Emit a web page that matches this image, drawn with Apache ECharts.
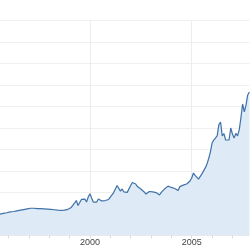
<!DOCTYPE html>
<html><head><meta charset="utf-8">
<script src="https://cdn.jsdelivr.net/npm/echarts@6/dist/echarts.min.js"></script>
<style>html,body{margin:0;padding:0;background:#fff}#c{width:250px;height:250px}</style>
</head><body><div id="c"></div>
<script>
const months = [
 '1995-08','1995-09','1995-10','1995-11','1995-12',
 '1996-01','1996-02','1996-03','1996-04','1996-05','1996-06','1996-07','1996-08','1996-09','1996-10','1996-11','1996-12',
 '1997-01','1997-02','1997-03','1997-04','1997-05','1997-06','1997-07','1997-08','1997-09','1997-10','1997-11','1997-12',
 '1998-01','1998-02','1998-03','1998-04','1998-05','1998-06','1998-07','1998-08','1998-09','1998-10','1998-11','1998-12',
 '1999-01','1999-02','1999-03','1999-04','1999-05','1999-06','1999-07','1999-08','1999-09','1999-10','1999-11','1999-12',
 '2000-01','2000-02','2000-03','2000-04','2000-05','2000-06','2000-07','2000-08','2000-09','2000-10','2000-11','2000-12',
 '2001-01','2001-02','2001-03','2001-04','2001-05','2001-06','2001-07','2001-08','2001-09','2001-10','2001-11','2001-12',
 '2002-01','2002-02','2002-03','2002-04','2002-05','2002-06','2002-07','2002-08','2002-09','2002-10','2002-11','2002-12',
 '2003-01','2003-02','2003-03','2003-04','2003-05','2003-06','2003-07','2003-08','2003-09','2003-10','2003-11','2003-12',
 '2004-01','2004-02','2004-03','2004-04','2004-05','2004-06','2004-07','2004-08','2004-09','2004-10','2004-11','2004-12',
 '2005-01','2005-02','2005-03','2005-04','2005-05','2005-06','2005-07','2005-08','2005-09','2005-10','2005-11','2005-12',
 '2006-01','2006-02','2006-03','2006-04','2006-05','2006-06','2006-07','2006-08','2006-09','2006-10','2006-11','2006-12',
 '2007-01','2007-02','2007-03','2007-04','2007-05','2007-06','2007-07','2007-08','2007-09','2007-10','2007-11'
];
const values = [
 9.9,10.1,10.2,10.4,10.5,
 10.7,10.9,11.0,11.1,11.3,11.4,11.6,11.7,11.8,12.0,12.1,12.3,
 12.4,12.6,12.5,12.6,12.5,12.4,12.5,12.4,12.4,12.3,12.3,12.2,
 12.1,12.1,12.0,11.9,11.8,11.7,11.6,11.6,11.6,11.7,11.9,12.1,
 12.4,13.0,13.9,15.1,16.2,13.9,15.3,16.7,17.6,16.9,15.5,17.8,
 19.4,17.4,15.5,14.9,15.5,16.9,16.2,16.0,16.4,16.2,15.5,16.7,
 17.8,18.5,19.9,21.6,23.2,22.7,20.6,21.6,20.2,20.3,20.0,20.4,
 23.2,24.6,25.0,23.9,22.7,21.8,21.6,20.9,20.2,19.2,19.2,20.4,
 20.7,20.2,19.6,19.9,19.2,18.8,19.9,20.4,21.6,22.5,22.9,22.7,
 22.3,22.0,21.8,21.6,20.9,22.7,23.0,23.4,23.7,23.9,24.4,25.3,
 26.7,29.0,27.9,27.2,26.2,26.7,28.6,30.0,31.4,33.2,35.8,38.8,
 43.0,44.4,44.7,46.3,51.6,52.8,46.3,47.4,44.4,43.5,44.4,50.0,
 47.2,45.3,47.5,46.3,49.1,54.7,61.2,57.5,60.7,65.4,66.8
];
const labelYears = ['2000','2005'];

const chart = echarts.init(document.getElementById('c'), null, {renderer:'canvas'});
const isJan = (i) => months[i].slice(5) === '01';
const isLabel = (i) => isJan(i) && labelYears.includes(months[i].slice(0,4));
chart.setOption({
  animation:false,
  grid:{left:0, right:0.6, top:20.7, bottom:14.7, containLabel:false},
  xAxis:{
    type:'category', data:months, boundaryGap:false,
    axisLine:{show:true, lineStyle:{color:'#eaeaea', width:1}},
    axisTick:{show:true, interval:(i)=>isJan(i), length:3, lineStyle:{color:'#dcdcdc'}},
    axisLabel:{interval:(i)=>isLabel(i), formatter:(v)=>v.slice(0,4), fontSize:9,
      color:'#444', margin:3, fontFamily:'Arial, Liberation Sans, sans-serif'},
    splitLine:{show:true, interval:(i)=>isLabel(i), lineStyle:{color:'#ededed', width:1}}
  },
  yAxis:{
    type:'value', min:0, max:100, interval:10,
    axisLine:{show:false}, axisTick:{show:false}, axisLabel:{show:false},
    splitLine:{show:true, lineStyle:{color:'#efefef', width:1}}
  },
  series:[{
    type:'line', data:values, showSymbol:false, symbol:'none',
    lineStyle:{color:'#3f72a8', width:1.2},
    areaStyle:{color:'#deeaf5', opacity:1}
  }]
});
</script></body></html>
